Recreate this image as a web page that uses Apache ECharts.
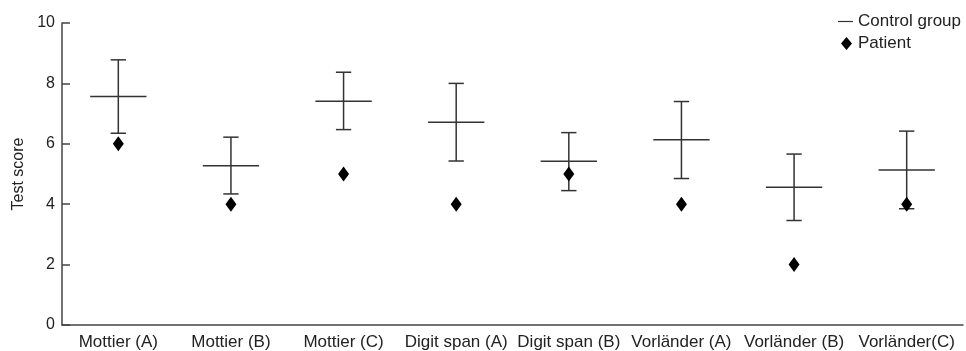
<!DOCTYPE html>
<html><head><meta charset="utf-8">
<script src="https://cdn.jsdelivr.net/npm/echarts@6/dist/echarts.min.js"></script>
<style>html,body{margin:0;padding:0;background:#fff}#c{width:966px;height:351px}</style>
</head><body><div id="c"></div>
<script>
const categories = ['Mottier (A)', 'Mottier (B)', 'Mottier (C)', 'Digit span (A)', 'Digit span (B)', 'Vorländer (A)', 'Vorländer (B)', 'Vorländer(C)'];
const controlLow  = [6.35, 4.34, 6.47, 5.43, 4.45, 4.85, 3.46, 3.85];
const controlMean = [7.57, 5.27, 7.41, 6.71, 5.42, 6.13, 4.56, 5.13];
const controlHigh = [8.78, 6.22, 8.37, 8.00, 6.37, 7.40, 5.66, 6.42];
const patient     = [6, 4, 5, 4, 5, 4, 2, 4];
const yTicks = { min: 0, max: 10, interval: 2 };

const font = 'Liberation Sans, Arial, Helvetica, sans-serif';
const controlData = categories.map((c, i) => [i, controlLow[i], controlMean[i], controlHigh[i]]);

function renderItem(params, api) {
  const i = api.value(0);
  const lo = api.coord([i, api.value(1)]);
  const mid = api.coord([i, api.value(2)]);
  const hi = api.coord([i, api.value(3)]);
  const band = api.size([1, 0])[0];
  const mw = band * 0.25;
  const cw = band * 0.068;
  const style = { stroke: '#333', lineWidth: 1.5, fill: null };
  return {
    type: 'group',
    children: [
      { type: 'line', shape: { x1: hi[0], y1: hi[1], x2: lo[0], y2: lo[1] }, style },
      { type: 'line', shape: { x1: hi[0] - cw, y1: hi[1], x2: hi[0] + cw, y2: hi[1] }, style },
      { type: 'line', shape: { x1: lo[0] - cw, y1: lo[1], x2: lo[0] + cw, y2: lo[1] }, style },
      { type: 'line', shape: { x1: mid[0] - mw, y1: mid[1], x2: mid[0] + mw, y2: mid[1] }, style }
    ]
  };
}

const chart = echarts.init(document.getElementById('c'), null, { renderer: 'canvas' });
chart.setOption({
  animation: false,
  backgroundColor: '#fff',
  textStyle: { fontFamily: font },
  grid: { left: 62, right: 3, top: 23, bottom: 24, containLabel: false },
  legend: {
    orient: 'vertical',
    left: 838,
    top: 13,
    itemWidth: 15,
    itemHeight: 14,
    itemGap: 5,
    padding: 0,
    textStyle: { fontSize: 17, color: '#222', fontFamily: font },
    data: [
      { name: 'Control group', icon: 'path://M0,0M0,6.4H15V7.6H0ZM15,14' },
      { name: 'Patient', icon: 'path://M0,0M8.5,0.5L14,7L8.5,13.5L3,7ZM15,14' }
    ]
  },
  xAxis: {
    type: 'category',
    data: categories,
    boundaryGap: true,
    axisLine: { lineStyle: { color: '#444', width: 1.5 } },
    axisTick: { alignWithLabel: true, inside: true, length: 8, lineStyle: { color: '#444', width: 1.5 } },
    axisLabel: { fontSize: 17, color: '#222', margin: 9, interval: 0 },
    splitLine: { show: false }
  },
  yAxis: {
    type: 'value',
    min: yTicks.min, max: yTicks.max, interval: yTicks.interval,
    name: 'Test score',
    nameLocation: 'middle',
    nameRotate: 90,
    nameGap: 35,
    nameTextStyle: { fontSize: 16, color: '#222' },
    axisLine: { show: true, lineStyle: { color: '#444', width: 1.5 } },
    axisTick: { show: true, inside: true, length: 8, lineStyle: { color: '#444', width: 1.5 } },
    axisLabel: { fontSize: 16, color: '#222', margin: 7 },
    splitLine: { show: false }
  },
  series: [
    {
      name: 'Control group',
      type: 'custom',
      renderItem: renderItem,
      itemStyle: { color: '#333' },
      encode: { x: 0, y: [1, 2, 3] },
      data: controlData,
      z: 2
    },
    {
      name: 'Patient',
      type: 'scatter',
      symbol: 'diamond',
      symbolSize: [11, 15],
      itemStyle: { color: '#000', opacity: 1 },
      data: patient,
      z: 3
    }
  ]
});
</script>
</body></html>
